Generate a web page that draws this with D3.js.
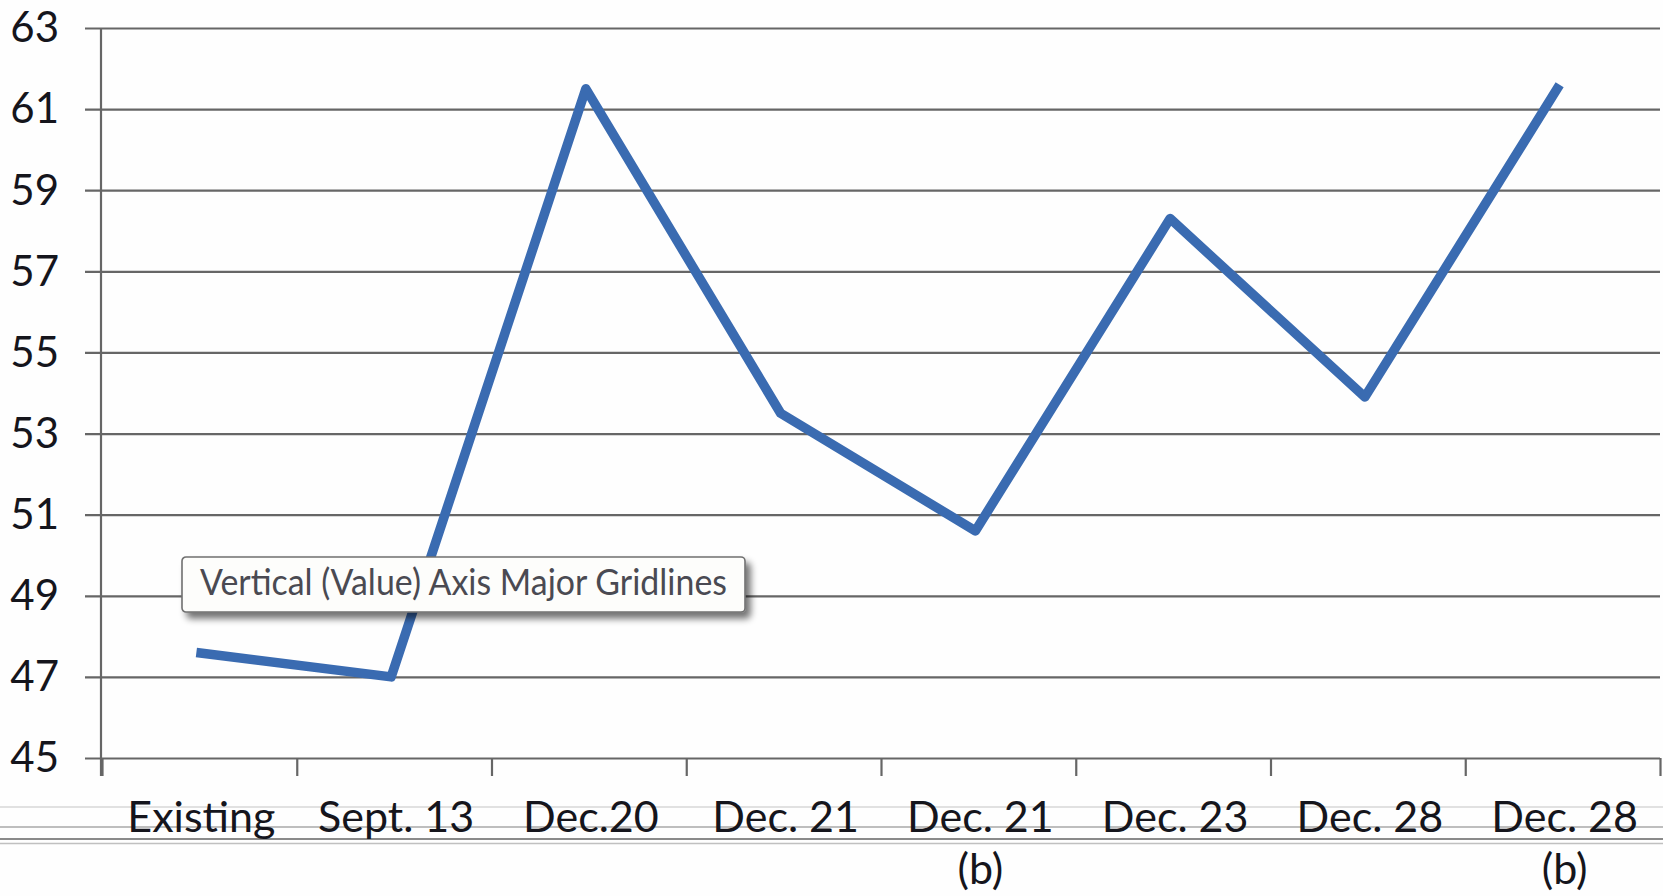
<!DOCTYPE html>
<html>
<head>
<meta charset="utf-8">
<script src="https://cdn.jsdelivr.net/npm/d3@7"></script>
<style>
  html, body { margin: 0; padding: 0; background: #ffffff; }
  svg { display: block; }
</style>
</head>
<body>
<svg id="chart" width="1663" height="896"></svg>
<script>
// ---- data ----
const categories = ["Existing", "Sept. 13", "Dec.20", "Dec. 21", "Dec. 21\n(b)", "Dec. 23", "Dec. 28", "Dec. 28\n(b)"];
const values = [47.6, 47.0, 61.5, 53.5, 50.6, 58.3, 53.9, 61.6];
const yTicks = [45, 47, 49, 51, 53, 55, 57, 59, 61, 63];
const tooltipText = "Vertical (Value) Axis Major Gridlines";

// ---- layout ----
const W = 1663, H = 896;
const plotLeft = 102, plotRight = 1660, plotTop = 28, plotBottom = 758;
const gridColor = "#666666";
const lineColor = "#3a6bb1";
const font = "Lato, 'Open Sans', sans-serif";

const svg = d3.select("#chart");
svg.append("rect").attr("width", W).attr("height", H).attr("fill", "#fefefe");

const idx = categories.map((d, i) => i);
const x = d3.scaleBand().domain(idx).range([plotLeft, plotRight]).padding(0);
const xb = d3.scaleLinear().domain([0, categories.length]).range([plotLeft, plotRight]);
const y = d3.scaleLinear().domain([45, 63]).range([plotBottom, plotTop]);

// scanner / window border artifacts at bottom
const art = svg.append("g");
art.append("line").attr("x1", 0).attr("x2", W).attr("y1", 807).attr("y2", 807).attr("stroke", "#c4c4c4").attr("stroke-width", 1.2);
art.append("line").attr("x1", 0).attr("x2", W).attr("y1", 827).attr("y2", 827).attr("stroke", "#a8a8a8").attr("stroke-width", 1.4);
art.append("line").attr("x1", 0).attr("x2", W).attr("y1", 839).attr("y2", 839).attr("stroke", "#8a8a8a").attr("stroke-width", 2);
art.append("line").attr("x1", 0).attr("x2", W).attr("y1", 843.5).attr("y2", 843.5).attr("stroke", "#c0c0c0").attr("stroke-width", 1.5);

// gridlines
const grid = svg.append("g")
  .attr("transform", `translate(85,0)`)
  .call(d3.axisRight(y).tickValues(yTicks).tickSize(plotRight - 85).tickFormat(""));
grid.select(".domain").remove();
grid.selectAll(".tick line").attr("stroke", gridColor).attr("stroke-width", 2.2);

// y axis line
svg.append("line")
  .attr("x1", plotLeft - 1).attr("x2", plotLeft - 1)
  .attr("y1", y(63)).attr("y2", plotBottom + 18)
  .attr("stroke", gridColor).attr("stroke-width", 2.2);

// y labels
const yl = svg.append("g")
  .attr("transform", `translate(59,0)`)
  .call(d3.axisLeft(y).tickValues(yTicks).tickSize(0).tickPadding(0).tickFormat(d3.format("d")));
yl.select(".domain").remove();
yl.selectAll(".tick text")
  .attr("font-family", font).attr("font-size", 42).attr("fill", "#15151c")
  .attr("dy", "0.33em");

// x boundary ticks
const xt = svg.append("g")
  .attr("transform", `translate(0,${plotBottom})`)
  .call(d3.axisBottom(xb).tickValues(d3.range(categories.length + 1)).tickSize(18).tickFormat(""));
xt.select(".domain").remove();
xt.selectAll(".tick line").attr("stroke", gridColor).attr("stroke-width", 2.2);

// x labels
const xl = svg.append("g")
  .attr("transform", `translate(0,${plotBottom})`)
  .call(d3.axisBottom(x).tickSize(0).tickFormat(""));
xl.select(".domain").remove();
xl.selectAll(".tick text").remove();
xl.selectAll(".tick").each(function(d) {
  const lines = categories[d].split("\n");
  const t = d3.select(this).append("text")
    .attr("font-family", font).attr("font-size", 43).attr("fill", "#15151c")
    .attr("text-anchor", "middle");
  lines.forEach((ln, k) => {
    t.append("tspan").attr("x", 2).attr("y", 74 + k * 52).text(ln);
  });
});

// data line
const line = d3.line().x((d, i) => x(i) + x.bandwidth() / 2 - 3).y(d => y(d));
svg.append("path")
  .datum(values)
  .attr("d", line)
  .attr("fill", "none")
  .attr("stroke", lineColor)
  .attr("stroke-width", 9.5)
  .attr("stroke-linejoin", "round")
  .attr("stroke-linecap", "butt");

// tooltip
const defs = svg.append("defs");
const f = defs.append("filter").attr("id", "shadow").attr("x", "-10%").attr("y", "-30%").attr("width", "130%").attr("height", "180%");
f.append("feGaussianBlur").attr("in", "SourceAlpha").attr("stdDeviation", 3.5).attr("result", "b");
f.append("feOffset").attr("in", "b").attr("dx", 5).attr("dy", 6).attr("result", "o");
f.append("feComponentTransfer").attr("in", "o").attr("result", "s")
  .append("feFuncA").attr("type", "linear").attr("slope", 0.55);
const fm = f.append("feMerge");
fm.append("feMergeNode").attr("in", "s");
fm.append("feMergeNode").attr("in", "SourceGraphic");

const tip = svg.append("g").attr("transform", "translate(182,557)");
tip.append("rect")
  .attr("width", 563).attr("height", 55).attr("rx", 4)
  .attr("fill", "#fdfdfb").attr("stroke", "#707070").attr("stroke-width", 1.6)
  .attr("filter", "url(#shadow)");
tip.append("text")
  .attr("x", 18).attr("y", 38)
  .attr("font-family", font).attr("font-size", 37).attr("fill", "#4a4a52")
  .attr("textLength", 527).attr("lengthAdjust", "spacingAndGlyphs")
  .text(tooltipText);
</script>
</body>
</html>
